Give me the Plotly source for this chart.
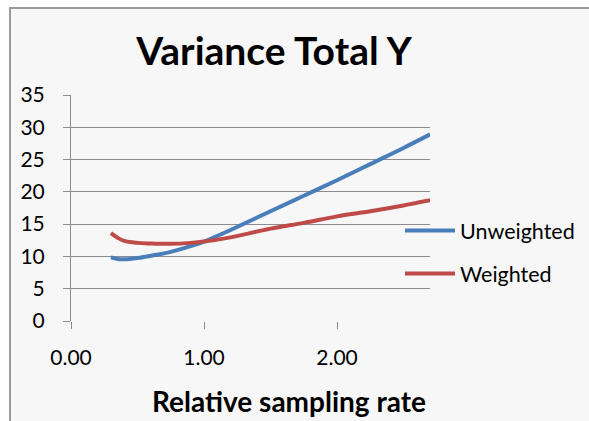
import plotly.graph_objects as go

# Data
rate = [0.30, 0.35, 0.40, 0.50, 0.60, 0.75, 0.90, 1.00, 1.20, 1.50, 1.75, 2.00, 2.25, 2.50, 2.70]
unweighted = [9.85, 9.6, 9.55, 9.75, 10.1, 10.7, 11.6, 12.3, 14.1, 17.0, 19.4, 21.8, 24.3, 26.8, 28.9]
weighted = [13.6, 12.9, 12.4, 12.1, 12.0, 11.95, 12.1, 12.3, 12.95, 14.3, 15.2, 16.2, 17.0, 17.9, 18.7]

y_ticks = [0, 5, 10, 15, 20, 25, 30, 35]
x_ticks = [0, 1, 2]
x_tick_labels = ["0.00", "1.00", "2.00"]

W, H = 589, 421
L, R, T, B = 71, 430, 95, 321
pw, ph = R - L, B - T

FONT = "Lato"
GRID = "#8c8c8c"

fig = go.Figure()
fig.add_trace(go.Scatter(x=rate, y=unweighted, name="Unweighted", mode="lines",
                         line=dict(color="#4a7ebb", width=4, shape="spline"),
                         legendgroup="a"))
fig.add_trace(go.Scatter(x=rate, y=weighted, name="Weighted", mode="lines",
                         line=dict(color="#be4b48", width=4, shape="spline"),
                         legendgroup="b"))

# chart-area frame
fig.add_shape(type="rect", xref="paper", yref="paper",
              x0=(10 - L) / pw, x1=(W + 20 - L) / pw,
              y0=(B - (H + 20)) / ph, y1=(B - 8) / ph,
              fillcolor="#f7f7f7", line=dict(color="#9a9a9a", width=2), layer="below")

fig.add_annotation(text="<b>Relative sampling rate</b>", xref="paper", yref="paper",
                   x=(289 - L) / pw, y=(B - 401) / ph, showarrow=False,
                   font=dict(family=FONT, size=28, color="black"),
                   xanchor="center", yanchor="middle")

fig.update_layout(
    width=W, height=H,
    margin=dict(l=L, r=W - R, t=T, b=H - B, pad=0, autoexpand=False),
    paper_bgcolor="white",
    plot_bgcolor="rgba(0,0,0,0)",
    title=dict(text="<b>Variance Total Y</b>", x=274 / W, y=1 - 51 / H,
               xanchor="center", yanchor="middle",
               font=dict(family=FONT, size=39, color="black")),
    font=dict(family=FONT, color="black", size=20),
    showlegend=True,
    legend=dict(x=(400 - L) / pw, y=(B - 252) / ph, xanchor="left", yanchor="middle",
                bgcolor="rgba(0,0,0,0)", font=dict(family=FONT, size=21.5, color="black"),
                traceorder="grouped", tracegroupgap=12, itemwidth=50),
    xaxis=dict(range=[0, (R - L) / 133.0], tickvals=x_ticks, ticktext=x_tick_labels,
               showgrid=False, zeroline=False, showline=False,
               ticks="outside", ticklen=7, tickcolor=GRID, tickwidth=1,
               ticklabelstandoff=11,
               tickfont=dict(family=FONT, size=21, color="black")),
    yaxis=dict(range=[0, 35], tickvals=y_ticks,
               showgrid=True, gridcolor=GRID, gridwidth=1,
               zeroline=False, showline=True, linecolor=GRID, linewidth=1,
               ticks="outside", ticklen=7, tickcolor=GRID, tickwidth=1,
               ticklabelstandoff=14,
               tickfont=dict(family=FONT, size=21, color="black")),
)

fig.write_html("out.html")
